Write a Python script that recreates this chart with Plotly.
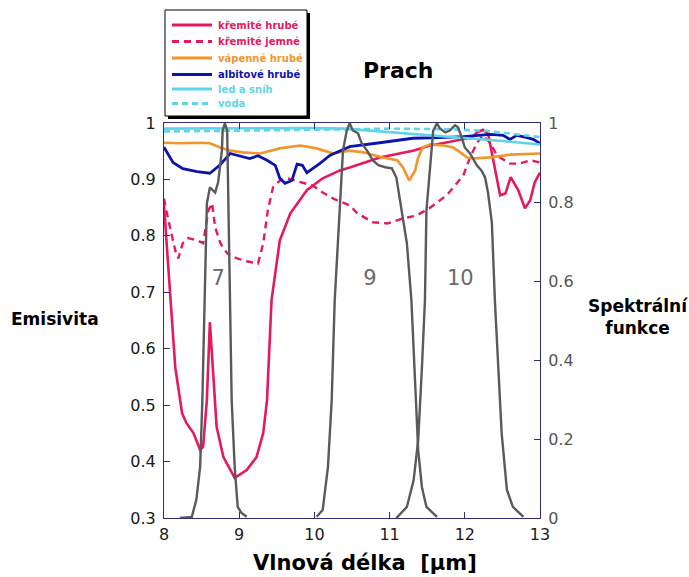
import plotly.graph_objects as go

# ---------------- data ----------------
# křemité hrubé (silicate coarse)
kh_x = [8.0, 8.09, 8.15, 8.24, 8.30, 8.39, 8.48, 8.52, 8.57, 8.61, 8.65, 8.70, 8.79, 8.94, 9.10,
        9.23, 9.32, 9.37, 9.41, 9.43, 9.54, 9.68, 9.90, 10.11, 10.34, 10.47, 10.87, 11.31, 11.54,
        11.89, 12.09, 12.16, 12.24, 12.31, 12.38, 12.47, 12.54, 12.61, 12.71, 12.80, 12.87, 12.93, 13.0]
kh_y = [0.854, 0.686, 0.567, 0.486, 0.468, 0.451, 0.421, 0.426, 0.509, 0.647, 0.567, 0.461, 0.408,
        0.371, 0.385, 0.408, 0.451, 0.509, 0.627, 0.686, 0.792, 0.840, 0.881, 0.902, 0.916, 0.921,
        0.939, 0.951, 0.960, 0.969, 0.974, 0.983, 0.988, 0.981, 0.934, 0.872, 0.875, 0.904, 0.881,
        0.849, 0.863, 0.895, 0.912]

# křemité jemné (silicate fine)
kj_x = [8.0, 8.05, 8.15, 8.19, 8.25, 8.32, 8.44, 8.52, 8.59, 8.64, 8.68, 8.75, 8.84, 8.97, 9.10,
        9.25, 9.32, 9.38, 9.45, 9.54, 9.64, 9.81, 9.98, 10.11, 10.25, 10.47, 10.57, 10.78, 10.97,
        11.18, 11.36, 11.54, 11.76, 11.98, 12.07, 12.16, 12.24, 12.34, 12.43, 12.60, 12.73, 12.87, 13.0]
kj_y = [0.866, 0.833, 0.774, 0.760, 0.787, 0.796, 0.792, 0.787, 0.845, 0.858, 0.815, 0.787, 0.769,
        0.760, 0.755, 0.751, 0.787, 0.845, 0.886, 0.898, 0.902, 0.895, 0.889, 0.877, 0.866, 0.854,
        0.840, 0.824, 0.822, 0.831, 0.836, 0.850, 0.872, 0.907, 0.939, 0.964, 0.978, 0.964, 0.942,
        0.928, 0.928, 0.934, 0.930]

# vápenné hrubé (carbonate coarse)
vh_x = [8.0, 8.21, 8.48, 8.61, 8.74, 8.88, 9.05, 9.28, 9.54, 9.81, 10.03, 10.25, 10.47, 10.65,
        10.91, 11.10, 11.18, 11.26, 11.34, 11.38, 11.44, 11.54, 11.71, 11.84, 11.94, 12.03, 12.11,
        12.34, 12.60, 12.87, 13.0]
vh_y = [0.965, 0.964, 0.965, 0.964, 0.957, 0.951, 0.948, 0.946, 0.955, 0.960, 0.955, 0.946, 0.951,
        0.948, 0.939, 0.934, 0.921, 0.898, 0.916, 0.939, 0.957, 0.962, 0.960, 0.957, 0.948, 0.939,
        0.937, 0.939, 0.944, 0.946, 0.946]

# albitové hrubé (albite coarse)
ah_x = [8.0, 8.12, 8.25, 8.44, 8.61, 8.74, 8.88, 9.01, 9.14, 9.25, 9.37, 9.48, 9.54, 9.61, 9.70,
        9.77, 9.84, 9.90, 9.98, 10.07, 10.21, 10.47, 10.87, 11.31, 11.67, 11.98, 12.34, 12.51,
        12.60, 12.69, 12.83, 12.91, 13.0]
ah_y = [0.957, 0.930, 0.919, 0.914, 0.911, 0.925, 0.946, 0.942, 0.937, 0.942, 0.934, 0.925, 0.902,
        0.893, 0.898, 0.927, 0.925, 0.912, 0.919, 0.928, 0.943, 0.958, 0.965, 0.973, 0.974, 0.976,
        0.980, 0.978, 0.971, 0.978, 0.974, 0.971, 0.964]

# led a sníh (ice and snow)
ls_x = [8.0, 9.0, 10.0, 10.4, 10.8, 11.2, 11.6, 12.0, 12.5, 13.0]
ls_y = [0.990, 0.991, 0.991, 0.990, 0.986, 0.981, 0.977, 0.973, 0.968, 0.962]

# voda (water)
vo_x = [8.0, 9.0, 10.0, 11.0, 11.8, 12.3, 12.7, 13.0]
vo_y = [0.985, 0.986, 0.988, 0.990, 0.989, 0.986, 0.980, 0.975]

# spectral response functions (bands 7, 9, 10)
b7_x = [8.21, 8.37, 8.43, 8.48, 8.51, 8.54, 8.57, 8.61, 8.68, 8.72, 8.77, 8.78, 8.81, 8.84, 8.85,
        8.88, 8.90, 8.94, 8.98, 9.03, 9.10]
b7_y = [0.0, 0.003, 0.046, 0.129, 0.298, 0.551, 0.796, 0.837, 0.824, 0.850, 0.930, 0.981, 0.999,
        0.981, 0.862, 0.526, 0.298, 0.129, 0.028, 0.013, 0.003]

b9_x = [10.03, 10.11, 10.18, 10.23, 10.27, 10.34, 10.38, 10.43, 10.47, 10.51, 10.58, 10.63, 10.70,
        10.78, 10.85, 10.94, 11.03, 11.09, 11.16, 11.23, 11.29, 11.34, 11.38, 11.43, 11.49, 11.63]
b9_y = [0.003, 0.020, 0.129, 0.298, 0.551, 0.779, 0.930, 0.981, 0.999, 0.981, 0.974, 0.948, 0.930,
        0.905, 0.893, 0.888, 0.885, 0.862, 0.779, 0.695, 0.551, 0.341, 0.172, 0.078, 0.028, 0.003]

b10_x = [11.09, 11.23, 11.32, 11.38, 11.43, 11.47, 11.49, 11.54, 11.58, 11.63, 11.67, 11.74, 11.80,
         11.87, 11.91, 11.96, 12.00, 12.07, 12.16, 12.22, 12.27, 12.31, 12.36, 12.40, 12.45, 12.49,
         12.56, 12.64, 12.78]
b10_y = [0.0, 0.028, 0.096, 0.197, 0.382, 0.551, 0.779, 0.905, 0.981, 0.999, 0.986, 0.976, 0.981,
         0.994, 0.989, 0.963, 0.938, 0.923, 0.893, 0.880, 0.862, 0.822, 0.748, 0.551, 0.382, 0.215,
         0.071, 0.028, 0.003]

band_labels = ["7", "9", "10"]
band_label_x = [8.72, 10.74, 11.94]
band_label_y = [0.723, 0.723, 0.723]

series_names = ["křemité hrubé", "křemité jemné", "vápenné hrubé", "albitové hrubé",
                "led a sníh", "voda"]

x_ticks = [8, 9, 10, 11, 12, 13]
y_ticks = [0.3, 0.4, 0.5, 0.6, 0.7, 0.8, 0.9, 1.0]
y_ticktext = ["0.3", "0.4", "0.5", "0.6", "0.7", "0.8", "0.9", "1"]
y2_ticks = [0, 0.2, 0.4, 0.6, 0.8, 1.0]
y2_ticktext = ["0", "0.2", "0.4", "0.6", "0.8", "1"]

# ---------------- styles ----------------
PINK = "#e6195f"
ORANGE = "#f0962d"
BLUE = "#0c14b0"
CYAN = "#5fd5e8"
GREY = "#5a5a5a"
AXIS = "#2e2e72"
FONT = "DejaVu Sans, Verdana, sans-serif"

# plot area in pixels (for placing paper-referenced decorations)
L, R, T, B = 164, 540, 123, 518


def px(x):
    return (x - L) / (R - L)


def py(y):
    return (B - y) / (B - T)


styles = [
    dict(color=PINK, width=2.6),
    dict(color=PINK, width=2.4, dash="7px,5px"),
    dict(color=ORANGE, width=2.6),
    dict(color=BLUE, width=2.8),
    dict(color=CYAN, width=2.6),
    dict(color=CYAN, width=2.6, dash="6px,4px"),
]
text_colors = [PINK, PINK, ORANGE, BLUE, CYAN, CYAN]

fig = go.Figure()

for (sx, sy), name, st in zip([(kh_x, kh_y), (kj_x, kj_y), (vh_x, vh_y), (ah_x, ah_y),
                                (ls_x, ls_y), (vo_x, vo_y)], series_names, styles):
    fig.add_trace(go.Scatter(x=sx, y=sy, mode="lines", name=name, line=st, showlegend=False))

for bx, by, bn in [(b7_x, b7_y, "7"), (b9_x, b9_y, "9"), (b10_x, b10_y, "10")]:
    fig.add_trace(go.Scatter(x=bx, y=by, mode="lines", yaxis="y2", showlegend=False,
                             name="pásmo " + bn, line=dict(color=GREY, width=2.4)))

fig.add_trace(go.Scatter(x=band_label_x, y=band_label_y, mode="text", text=band_labels,
                         textfont=dict(size=21, color="#6a6a6a", family=FONT),
                         showlegend=False, hoverinfo="skip"))

fig.update_layout(
    width=689, height=577,
    margin=dict(l=L, r=689 - R, t=T, b=577 - B),
    paper_bgcolor="white", plot_bgcolor="white",
    font=dict(family=FONT, color="#222"),
    showlegend=False,
    xaxis=dict(range=[8, 13], tickvals=x_ticks, ticktext=[str(v) for v in x_ticks],
               showline=True, linecolor=AXIS, linewidth=1, mirror="ticks",
               ticks="inside", ticklen=6, tickcolor=AXIS, showgrid=False, zeroline=False,
               ticklabelstandoff=2,
               tickfont=dict(size=16, color="#1a1a1a")),
    yaxis=dict(range=[0.3, 1.0], tickvals=y_ticks, ticktext=y_ticktext,
               showline=True, linecolor=AXIS, linewidth=1,
               ticks="inside", ticklen=6, tickcolor=AXIS, showgrid=False, zeroline=False,
               ticklabelstandoff=4,
               tickfont=dict(size=16, color="#1a1a1a")),
    yaxis2=dict(range=[0, 1.0], tickvals=y2_ticks, ticktext=y2_ticktext, overlaying="y",
                side="right", showline=True, linecolor=AXIS, linewidth=1,
                ticks="inside", ticklen=6, tickcolor=AXIS, showgrid=False, zeroline=False,
                ticklabelstandoff=4,
                tickfont=dict(size=16, color="#555555")),
)

# ---------------- manual legend box (with drop shadow) ----------------
box_l, box_t, box_r, box_b = 165, 10, 307, 116
fig.add_shape(type="rect", xref="paper", yref="paper",
              x0=px(box_l + 3), x1=px(box_r + 3), y0=py(box_b + 3), y1=py(box_t + 3),
              fillcolor="black", line=dict(width=0), layer="above")
fig.add_shape(type="rect", xref="paper", yref="paper",
              x0=px(box_l), x1=px(box_r), y0=py(box_b), y1=py(box_t),
              fillcolor="white", line=dict(color="black", width=1), layer="above")
row_y = [25, 41.5, 58, 74.5, 89, 103.5]
for ry, name, st, tc in zip(row_y, series_names, styles, text_colors):
    fig.add_shape(type="line", xref="paper", yref="paper",
                  x0=px(172), x1=px(212), y0=py(ry), y1=py(ry),
                  line=dict(color=st["color"], width=3, dash=st.get("dash", "solid")),
                  layer="above")
    fig.add_annotation(text=f"<b>{name}</b>", xref="paper", yref="paper",
                       x=px(216), y=py(ry), xanchor="left", yanchor="middle",
                       showarrow=False, font=dict(size=10, color=tc, family=FONT))

# ---------------- titles ----------------
fig.add_annotation(text="<b>Prach</b>", xref="paper", yref="paper", x=px(398), y=py(71),
                   xanchor="center", yanchor="middle", showarrow=False,
                   font=dict(size=22, color="black"))
fig.add_annotation(text="<b>Emisivita</b>", xref="paper", yref="paper", x=px(55), y=py(319),
                   xanchor="center", yanchor="middle", showarrow=False,
                   font=dict(size=17, color="black"))
fig.add_annotation(text="<b>Spektrální<br>funkce</b>", xref="paper", yref="paper",
                   x=px(638), y=py(317), xanchor="center", yanchor="middle", showarrow=False,
                   font=dict(size=17, color="black"))
fig.add_annotation(text="<b>Vlnová délka  [µm]</b>", xref="paper", yref="paper",
                   x=px(365), y=py(563), xanchor="center", yanchor="middle", showarrow=False,
                   font=dict(size=21, color="black"))

fig.write_html("out.html")
